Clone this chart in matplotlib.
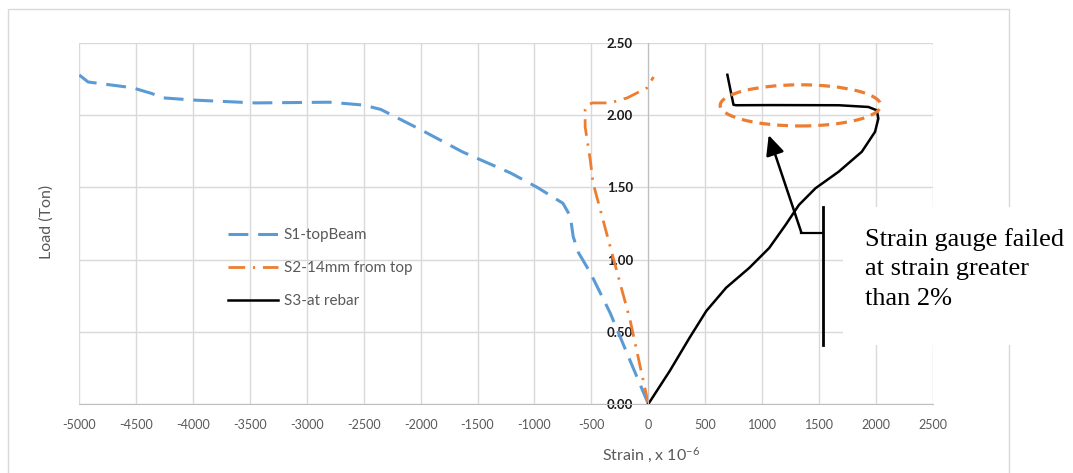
import matplotlib
matplotlib.use("Agg")
import matplotlib.pyplot as plt
from matplotlib.patches import Rectangle, Ellipse

plt.rcParams['font.family'] = ['Lato', 'DejaVu Sans']
plt.rcParams['mathtext.default'] = 'regular'

# ---- data ----
s1_strain = [0, -160, -335, -510, -615, -660, -685, -750, -975, -1210, -1630, -2000,
             -2350, -2500, -2800, -3450, -4000, -4260, -4360, -4530, -4920, -5000]
s1_load = [0.0, 0.30, 0.63, 0.91, 1.05, 1.16, 1.30, 1.39, 1.50, 1.60, 1.745, 1.90,
           2.04, 2.07, 2.09, 2.085, 2.105, 2.12, 2.15, 2.19, 2.23, 2.28]

s2_strain = [0, -160, -335, -485, -510, -555, -555, -540, -490, -335, -185, -10, 45]
s2_load = [0.0, 0.58, 1.09, 1.53, 1.69, 1.92, 2.04, 2.07, 2.085, 2.085, 2.12, 2.19, 2.265]

s3_strain = [0, 189, 363, 509, 683, 887, 1061, 1206, 1323, 1468, 1672, 1875, 1991,
             2020, 2006, 1933, 1672, 1090, 770, 748, 725, 694]
s3_load = [0.0, 0.23, 0.46, 0.644, 0.805, 0.943, 1.08, 1.241, 1.379, 1.494, 1.609,
           1.747, 1.885, 1.977, 2.034, 2.057, 2.069, 2.07, 2.069, 2.072, 2.16, 2.28]

series_labels = ['S1-topBeam', 'S2-14mm from top', 'S3-at rebar']
x_ticks = list(range(-5000, 2501, 500))
y_ticks = [0.0, 0.5, 1.0, 1.5, 2.0, 2.5]

W, H = 1073, 473
fig = plt.figure(figsize=(W / 100, H / 100), dpi=100)
fig.patch.set_facecolor('white')

# plot area in pixels: x 79..933, y 43..404
ax = fig.add_axes([79 / W, 1 - 404 / H, (933 - 79) / W, (404 - 43) / H])
ax.set_xlim(-5000, 2500)
ax.set_ylim(0, 2.5)
ax.set_xticks(x_ticks)
ax.set_yticks(y_ticks)
ax.set_xticklabels([str(v) for v in x_ticks])
ax.set_yticklabels([f"{v:.2f}" for v in y_ticks])
ax.grid(True, color='#d9d9d9', lw=1.0, zorder=0)
ax.set_axisbelow(True)
for s in ['top', 'right']:
    ax.spines[s].set_visible(False)
ax.spines['left'].set_position(('data', 0))
ax.spines['left'].set_color('#bfbfbf')
ax.spines['bottom'].set_color('#bfbfbf')
ax.tick_params(axis='both', length=0)
ax.tick_params(axis='y', pad=11, labelsize=9.5, labelcolor='#1a1a1a')
ax.tick_params(axis='x', pad=11, labelsize=9, labelcolor='#595959')
for t in ax.get_yticklabels():
    t.set_fontweight('bold')

blue = '#5B9BD5'
orange = '#ED7D31'
l1, = ax.plot(s1_strain, s1_load, color=blue, lw=2.2, dashes=(6.5, 3.2), label=series_labels[0])
l2, = ax.plot(s2_strain, s2_load, color=orange, lw=2.0, dashes=(6, 2.8, 0.8, 2.8), label=series_labels[1])
l3, = ax.plot(s3_strain, s3_load, color='black', lw=1.8, label=series_labels[2],
              solid_joinstyle='round')

leg = ax.legend(handles=[l1, l2, l3], loc='center left',
                bbox_to_anchor=((228 - 79) / 854, (404 - 268) / 361),
                frameon=False, fontsize=11, handlelength=3.3, handletextpad=0.35,
                labelspacing=1.25, borderpad=0, borderaxespad=0)
for t in leg.get_texts():
    t.set_color('#595959')

# axis titles
fig.text(47 / W, 1 - 222 / H, 'Load (Ton)', rotation=90, ha='center', va='center',
         fontsize=11.5, color='#595959')
fig.text(651 / W, 1 - 455 / H, 'Strain , x 10$^{-6}$', ha='center', va='center',
         fontsize=11.5, color='#595959')

# annotation: ellipse around failure region
ax.add_patch(Ellipse((1336, 2.068), 1410, 0.285, fill=False, edgecolor=orange,
                     lw=2.3, linestyle=(0, (3.4, 2.2)), zorder=5, clip_on=False))
# bracket and arrow
ax.plot([1535, 1535], [0.41, 1.365], color='black', lw=2.0, clip_on=False, zorder=6)
ax.plot([1345, 1535], [1.185, 1.185], color='black', lw=1.6, clip_on=False, zorder=6)
ax.annotate('', xy=(1057, 1.862), xytext=(1345, 1.185),
            arrowprops=dict(arrowstyle='-|>,head_length=0.6,head_width=0.28',
                            mutation_scale=20, color='black', lw=1.8,
                            shrinkA=0, shrinkB=0),
            zorder=6, annotation_clip=False)

# outer chart border
fig.add_artist(Rectangle((8 / W, 1 - 490 / H), (1009 - 8) / W, (490 - 9) / H,
                         transform=fig.transFigure, fill=False, edgecolor='#d9d9d9',
                         lw=1.0, zorder=2))
# white text box
fig.add_artist(Rectangle((843 / W, 1 - 345 / H), (W - 843) / W, (345 - 207) / H,
                         transform=fig.transFigure, facecolor='white',
                         edgecolor='none', zorder=3))
fig.text(865 / W, 1 - 269 / H, 'Strain gauge failed\nat strain greater\nthan 2%',
         ha='left', va='center', fontsize=19, family=['Liberation Serif', 'DejaVu Serif'],
         color='black', linespacing=1.45, zorder=4)

fig.savefig('out.png', dpi=100)
